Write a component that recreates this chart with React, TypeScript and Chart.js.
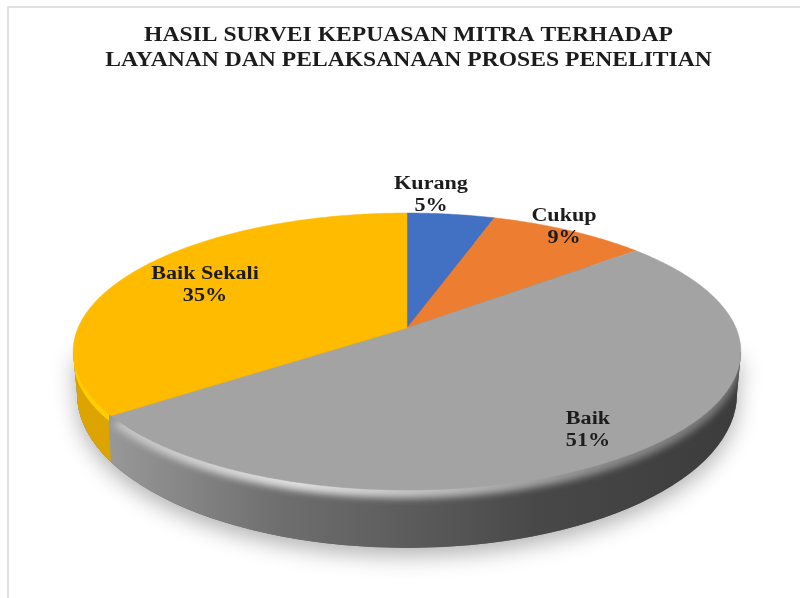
import React, { useEffect, useRef } from "react";
import { Chart, registerables } from "chart.js";

Chart.register(...registerables);

const categories = ["Kurang", "Cukup", "Baik", "Baik Sekali"];
const values = [5, 9, 51, 35];
const colors = ["#4270C3", "#ED7D31", "#A3A3A3", "#FFBB00"];
const titleLines = [
  "HASIL SURVEI KEPUASAN MITRA TERHADAP",
  "LAYANAN DAN PELAKSANAAN PROSES PENELITIAN",
];
const labelAnchors = [
  [431, 184],
  [564, 216],
  [588, 419],
  [205, 274],
];

// Perspective projection of the pie disc
const APEX_X = 407;
const APEX_Y = 328;
const SCALE_X = 329;
const SCALE_Y = 134.5;
const TILT = 0.1697;
const TEXT_STRETCH = 1.18;
const LABEL_STRETCH = 1.23;

const project = (a: number): [number, number] => {
  const u = Math.cos(a);
  const v = Math.sin(a);
  const w = 1 - TILT * v;
  return [APEX_X + (SCALE_X * u) / w, APEX_Y + (SCALE_Y * v) / w];
};

const sectorPath = (ctx: CanvasRenderingContext2D, start: number, end: number, dy = 0) => {
  ctx.moveTo(APEX_X, APEX_Y + dy);
  const steps = Math.max(4, Math.ceil((end - start) / 0.01));
  for (let i = 0; i <= steps; i++) {
    const [x, y] = project(start + ((end - start) * i) / steps);
    ctx.lineTo(x, y + dy);
  }
  ctx.closePath();
};

// Outline of the disc's thickness: lower ellipse plus its link to the face
const wallPath = (ctx: CanvasRenderingContext2D) => {
  ctx.beginPath();
  ctx.ellipse(407, 394, 330, 154, 0, 0, Math.PI * 2);
  ctx.moveTo(73, 352);
  ctx.lineTo(741, 352);
  ctx.lineTo(737, 394);
  ctx.lineTo(77, 394);
  ctx.closePath();
};

const pie3d = {
  id: "pie3d",
  beforeDatasetDraw(chart: any) {
    const ctx: CanvasRenderingContext2D = chart.ctx;
    ctx.setTransform(1, 0, 0, 1, 0, 0);
    const arcs = chart.getDatasetMeta(0).data;

    // Ground shadow and side wall
    ctx.save();
    ctx.shadowColor = "rgba(0,0,0,0.3)";
    ctx.shadowBlur = 22;
    ctx.shadowOffsetY = 8;
    wallPath(ctx);
    ctx.fillStyle = "#666";
    ctx.fill("nonzero");
    ctx.restore();

    const wall = ctx.createLinearGradient(80, 0, 735, 0);
    wall.addColorStop(0, "#a0a0a0");
    wall.addColorStop(0.12, "#8c8c8c");
    wall.addColorStop(0.3, "#6f6f6f");
    wall.addColorStop(0.5, "#5c5c5c");
    wall.addColorStop(0.7, "#484848");
    wall.addColorStop(1, "#3c3c3c");
    wallPath(ctx);
    ctx.fillStyle = wall;
    ctx.fill("nonzero");

    ctx.save();
    wallPath(ctx);
    ctx.clip("nonzero");

    // Yellow wall of the slice that wraps round the left edge
    ctx.beginPath();
    ctx.moveTo(60, 340);
    ctx.lineTo(108, 340);
    ctx.lineTo(108, 412);
    ctx.lineTo(112, 480);
    ctx.lineTo(60, 480);
    ctx.closePath();
    ctx.fillStyle = "#DDA400";
    ctx.fill();

    // Soft bevel between wall and face
    const bevel = ctx.createLinearGradient(110, 0, 735, 0);
    bevel.addColorStop(0, "#c0c0c0");
    bevel.addColorStop(0.3, "#e0e0e0");
    bevel.addColorStop(0.55, "#b8b8b8");
    bevel.addColorStop(0.8, "#8a8a8a");
    bevel.addColorStop(1, "#777777");
    ctx.save();
    ctx.filter = "blur(3.5px)";
    ctx.beginPath();
    sectorPath(ctx, arcs[2].startAngle, arcs[2].endAngle, 8);
    ctx.fillStyle = bevel;
    ctx.fill();
    ctx.restore();

    // Bright yellow rim
    ctx.beginPath();
    ctx.rect(60, 330, 49, 120);
    ctx.clip();
    ctx.beginPath();
    sectorPath(ctx, arcs[3].startAngle, arcs[3].endAngle, 7);
    ctx.fillStyle = "#FFCD00";
    ctx.fill();
    ctx.restore();

    // Top face: angles and colours come from Chart.js' arc elements
    arcs.forEach((el: any) => {
      ctx.beginPath();
      sectorPath(ctx, el.startAngle, el.endAngle);
      ctx.fillStyle = el.options.backgroundColor;
      ctx.strokeStyle = el.options.backgroundColor;
      ctx.lineWidth = 0.5;
      ctx.fill();
      ctx.stroke();
    });

    // Labels
    const total = values.reduce((a, b) => a + b, 0);
    ctx.fillStyle = "#1c1c1c";
    ctx.textAlign = "center";
    ctx.textBaseline = "middle";
    ctx.font = 'bold 18px "Liberation Serif"';
    categories.forEach((c, i) => {
      const [x, yy] = labelAnchors[i];
      ctx.save();
      ctx.translate(x, yy);
      ctx.scale(LABEL_STRETCH, 1);
      ctx.fillText(c, 0, 0);
      ctx.fillText(`${Math.round((values[i] / total) * 100)}%`, 0, 22);
      ctx.restore();
    });
    return false;
  },
};

const frame = {
  id: "frame",
  beforeDraw(chart: any) {
    const ctx: CanvasRenderingContext2D = chart.ctx;
    ctx.save();
    ctx.fillStyle = "#ffffff";
    ctx.fillRect(0, 0, chart.width, chart.height);
    ctx.strokeStyle = "#e0e0e0";
    ctx.lineWidth = 2;
    ctx.beginPath();
    ctx.moveTo(8, 598);
    ctx.lineTo(8, 7);
    ctx.lineTo(800, 7);
    ctx.stroke();
    ctx.restore();
    // The reference's text is stretched sideways: widen the title as it is drawn
    ctx.setTransform(TEXT_STRETCH, 0, 0, 1, 408.5 - 400 * TEXT_STRETCH, 0);
  },
};

export default function App() {
  const ref = useRef<HTMLCanvasElement>(null);
  useEffect(() => {
    document.body.style.margin = "0";
    const chart = new Chart(ref.current!, {
      type: "pie",
      data: {
        labels: categories,
        datasets: [{ data: values, backgroundColor: colors, borderWidth: 0 }],
      },
      options: {
        animation: false,
        responsive: false,
        plugins: {
          legend: { display: false },
          tooltip: { enabled: false },
          title: {
            display: true,
            text: titleLines,
            color: "#1c1c1c",
            font: { family: '"Liberation Serif"', size: 20, weight: "bold", lineHeight: 1.25 },
            padding: { top: 23, bottom: 10 },
          },
        },
      },
      plugins: [frame, pie3d],
    } as any);
    return () => chart.destroy();
  }, []);
  return (
    <div style={{ position: "absolute", left: 0, top: 0, width: 800, height: 598 }}>
      <canvas ref={ref} width={800} height={598} style={{ display: "block", filter: "blur(0.6px)" }} />
    </div>
  );
}
